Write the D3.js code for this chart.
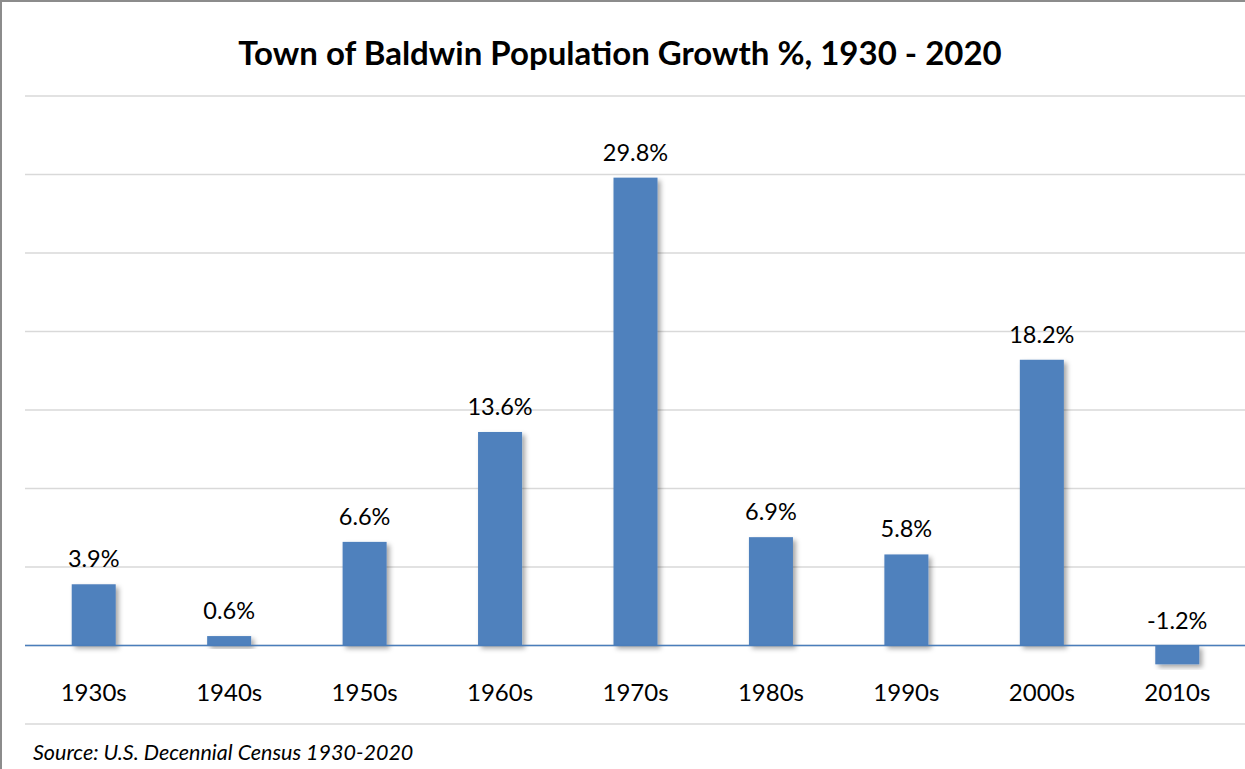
<!DOCTYPE html>
<html><head><meta charset="utf-8">
<script src="https://cdn.jsdelivr.net/npm/d3@7"></script>
<style>body{margin:0;background:#fff}svg{display:block}</style>
</head><body>
<script>
const categories = ["1930s","1940s","1950s","1960s","1970s","1980s","1990s","2000s","2010s"];
const values = [3.9, 0.6, 6.6, 13.6, 29.8, 6.9, 5.8, 18.2, -1.2];
const yTicks = [-5, 0, 5, 10, 15, 20, 25, 30, 35];
const title = "Town of Baldwin Population Growth %, 1930 - 2020";
const source = "Source: U.S. Decennial Census 1930-2020";

const W = 1245, H = 769;
const svg = d3.select("body").append("svg").attr("width", W).attr("height", H);
const font = "Lato, 'Open Sans', sans-serif";

const defs = svg.append("defs");
const f = defs.append("filter").attr("id","sh").attr("x","-20%").attr("y","-20%").attr("width","150%").attr("height","150%");
f.append("feDropShadow").attr("dx",3).attr("dy",3).attr("stdDeviation",2.5).attr("flood-color","#000").attr("flood-opacity",0.35);

svg.append("rect").attr("x",1).attr("y",1).attr("width",W+10).attr("height",H+10)
  .attr("fill","#fff").attr("stroke","#8c8c8c").attr("stroke-width",2);

const x = d3.scaleBand().domain(categories).range([26, 1245]).paddingInner(0.675).paddingOuter(0.3375);
const y = d3.scaleLinear().domain([-5, 35]).range([724, 96]);

svg.append("g").selectAll("line").data(yTicks).join("line")
  .attr("x1",25).attr("x2",W).attr("y1",d=>y(d)).attr("y2",d=>y(d))
  .attr("stroke","#d9d9d9").attr("stroke-width",1.5);

svg.append("g").selectAll("rect").data(values).join("rect")
  .attr("x",(d,i)=>x(categories[i])).attr("width",x.bandwidth())
  .attr("y",d=>y(Math.max(0,d))).attr("height",d=>Math.abs(y(d)-y(0)))
  .attr("fill","#4f81bd").attr("filter","url(#sh)");

svg.append("line").attr("x1",25).attr("x2",W).attr("y1",y(0)).attr("y2",y(0))
  .attr("stroke","#4a7ebb").attr("stroke-width",1.5);

svg.append("g").selectAll("text").data(values).join("text")
  .attr("x",(d,i)=>x(categories[i])+x.bandwidth()/2)
  .attr("y",d=>(d>=0? y(d) : y(0)) - 17)
  .attr("text-anchor","middle").attr("font-family",font).attr("font-size",23.5).attr("fill","#000")
  .text(d=>d.toFixed(1)+"%");

const xAxis = d3.axisBottom(x).tickSize(0).tickPadding(0);
const gx = svg.append("g").attr("transform",`translate(0,${y(0)})`).call(xAxis);
gx.select(".domain").remove();
gx.selectAll("text").attr("dy",null).attr("y",55).attr("font-family",font).attr("font-size",24).attr("fill","#000");

svg.append("text").attr("x",620).attr("y",65).attr("text-anchor","middle")
  .attr("font-family",font).attr("font-weight","bold").attr("font-size",33).attr("fill","#000").text(title);

svg.append("text").attr("x",33).attr("y",760).attr("font-family",font).attr("font-style","italic")
  .attr("font-size",21.5).attr("fill","#000").text(source);
</script>
</body></html>
